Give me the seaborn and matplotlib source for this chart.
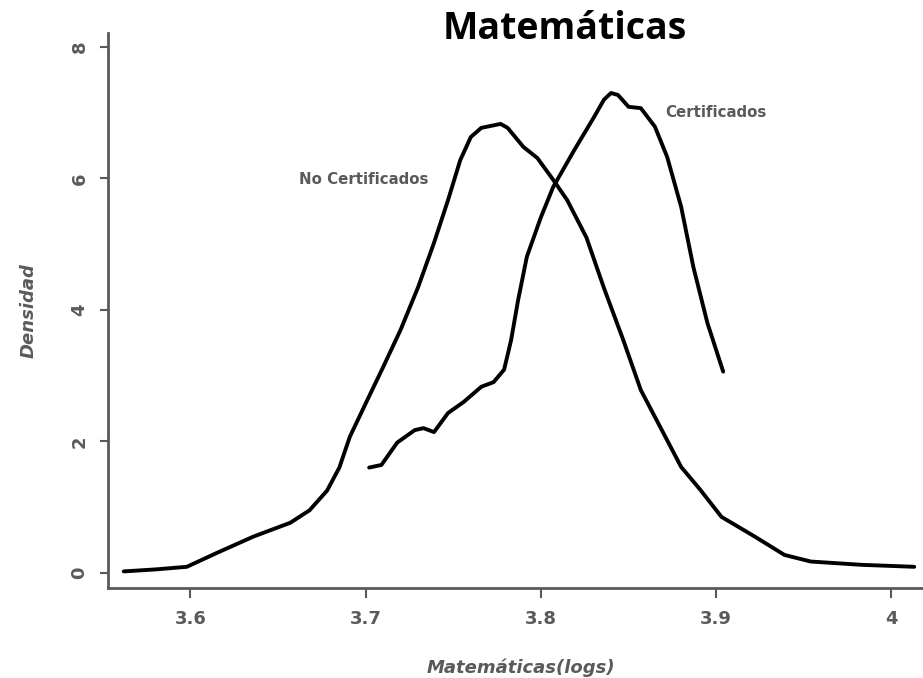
import numpy as np
import pandas as pd
import matplotlib
matplotlib.use("Agg")
import matplotlib.pyplot as plt
import seaborn as sns

# ---- Data ----
no_cert_x = [3.562, 3.580, 3.598, 3.615, 3.636, 3.657, 3.668, 3.678, 3.685, 3.691,
             3.701, 3.710, 3.720, 3.730, 3.739, 3.747, 3.754, 3.760, 3.766, 3.777,
             3.781, 3.790, 3.798, 3.807, 3.815, 3.826, 3.836, 3.847, 3.857, 3.869,
             3.880, 3.891, 3.903, 3.922, 3.939, 3.954, 3.983, 4.013]
no_cert_y = [0.02, 0.05, 0.09, 0.30, 0.55, 0.76, 0.95, 1.25, 1.60, 2.07,
             2.63, 3.13, 3.70, 4.35, 5.02, 5.67, 6.28, 6.63, 6.77, 6.83,
             6.77, 6.48, 6.31, 5.98, 5.67, 5.10, 4.33, 3.54, 2.78, 2.17,
             1.61, 1.26, 0.85, 0.55, 0.27, 0.17, 0.12, 0.09]

cert_x = [3.702, 3.709, 3.718, 3.728, 3.733, 3.739, 3.747, 3.756, 3.766, 3.773,
          3.779, 3.783, 3.787, 3.792, 3.800, 3.807, 3.819, 3.830, 3.836, 3.840,
          3.844, 3.850, 3.857, 3.865, 3.872, 3.880, 3.887, 3.895, 3.904]
cert_y = [1.60, 1.64, 1.98, 2.17, 2.20, 2.14, 2.43, 2.60, 2.83, 2.90,
          3.09, 3.54, 4.15, 4.81, 5.41, 5.87, 6.43, 6.92, 7.20, 7.30,
          7.27, 7.09, 7.07, 6.79, 6.33, 5.57, 4.65, 3.80, 3.06]

series_labels = ["No Certificados", "Certificados"]
label_pos_x = [3.662, 3.871]
label_pos_y = [5.98, 7.0]

x_ticks = [3.6, 3.7, 3.8, 3.9, 4.0]
x_tick_labels = ["3.6", "3.7", "3.8", "3.9", "4"]
y_ticks = [0, 2, 4, 6, 8]
y_tick_labels = ["0", "2", "4", "6", "8"]

title = "Matemáticas"
x_label = "Matemáticas(logs)"
y_label = "Densidad"

# ---- Build table ----
df = pd.concat([
    pd.DataFrame({"x": no_cert_x, "y": no_cert_y, "grupo": series_labels[0]}),
    pd.DataFrame({"x": cert_x, "y": cert_y, "grupo": series_labels[1]}),
], ignore_index=True)

sns.set_theme(style="white")
plt.rcParams["font.family"] = ["DejaVu Sans"]

fig = plt.figure(figsize=(9.23, 6.78), dpi=100)
ax = fig.add_axes([0.117, 0.133, 0.883, 0.818])

gray = "#5a5a5a"
sns.lineplot(data=df, x="x", y="y", hue="grupo", estimator=None, sort=False,
             palette={series_labels[0]: "black", series_labels[1]: "black"},
             linewidth=2.8, legend=False, ax=ax)
for ln in ax.get_lines():
    ln.set_solid_joinstyle("round")
    ln.set_solid_capstyle("round")

for lab, lx, ly in zip(series_labels, label_pos_x, label_pos_y):
    ax.text(lx, ly, lab, color=gray, fontsize=10.8, fontweight="bold",
            ha="left", va="center")

ax.set_xlim(3.553, 4.018)
ax.set_ylim(-0.23, 8.21)
ax.set_xticks(x_ticks)
ax.set_xticklabels(x_tick_labels)
ax.set_yticks(y_ticks)
ax.set_yticklabels(y_tick_labels, rotation=90, va="center")
ax.tick_params(axis="both", colors=gray, labelcolor=gray, labelsize=13,
               width=1.5, direction="out", bottom=True, left=True)
ax.tick_params(axis="x", length=7, pad=9)
ax.tick_params(axis="y", length=6, pad=8)
for t in ax.get_xticklabels() + ax.get_yticklabels():
    t.set_fontweight("bold")

sns.despine(ax=ax)
for s in ["left", "bottom"]:
    ax.spines[s].set_color(gray)
    ax.spines[s].set_linewidth(2)

ax.set_xlabel(x_label, fontsize=13, style="italic", fontweight="bold", color=gray)
ax.set_ylabel(y_label, fontsize=13, style="italic", fontweight="bold", color=gray)
ax.xaxis.set_label_coords(0.507, -0.144)
ax.xaxis.label.set_va("center")
ax.yaxis.set_label_coords(-0.097, 0.5)
ax.yaxis.label.set_va("center")

fig.text(0.612, 0.957, title, fontsize=27, fontweight="bold", color="black",
         ha="center", va="center", family=["Open Sans", "DejaVu Sans"])

fig.savefig("out.png", dpi=100, facecolor="white")
